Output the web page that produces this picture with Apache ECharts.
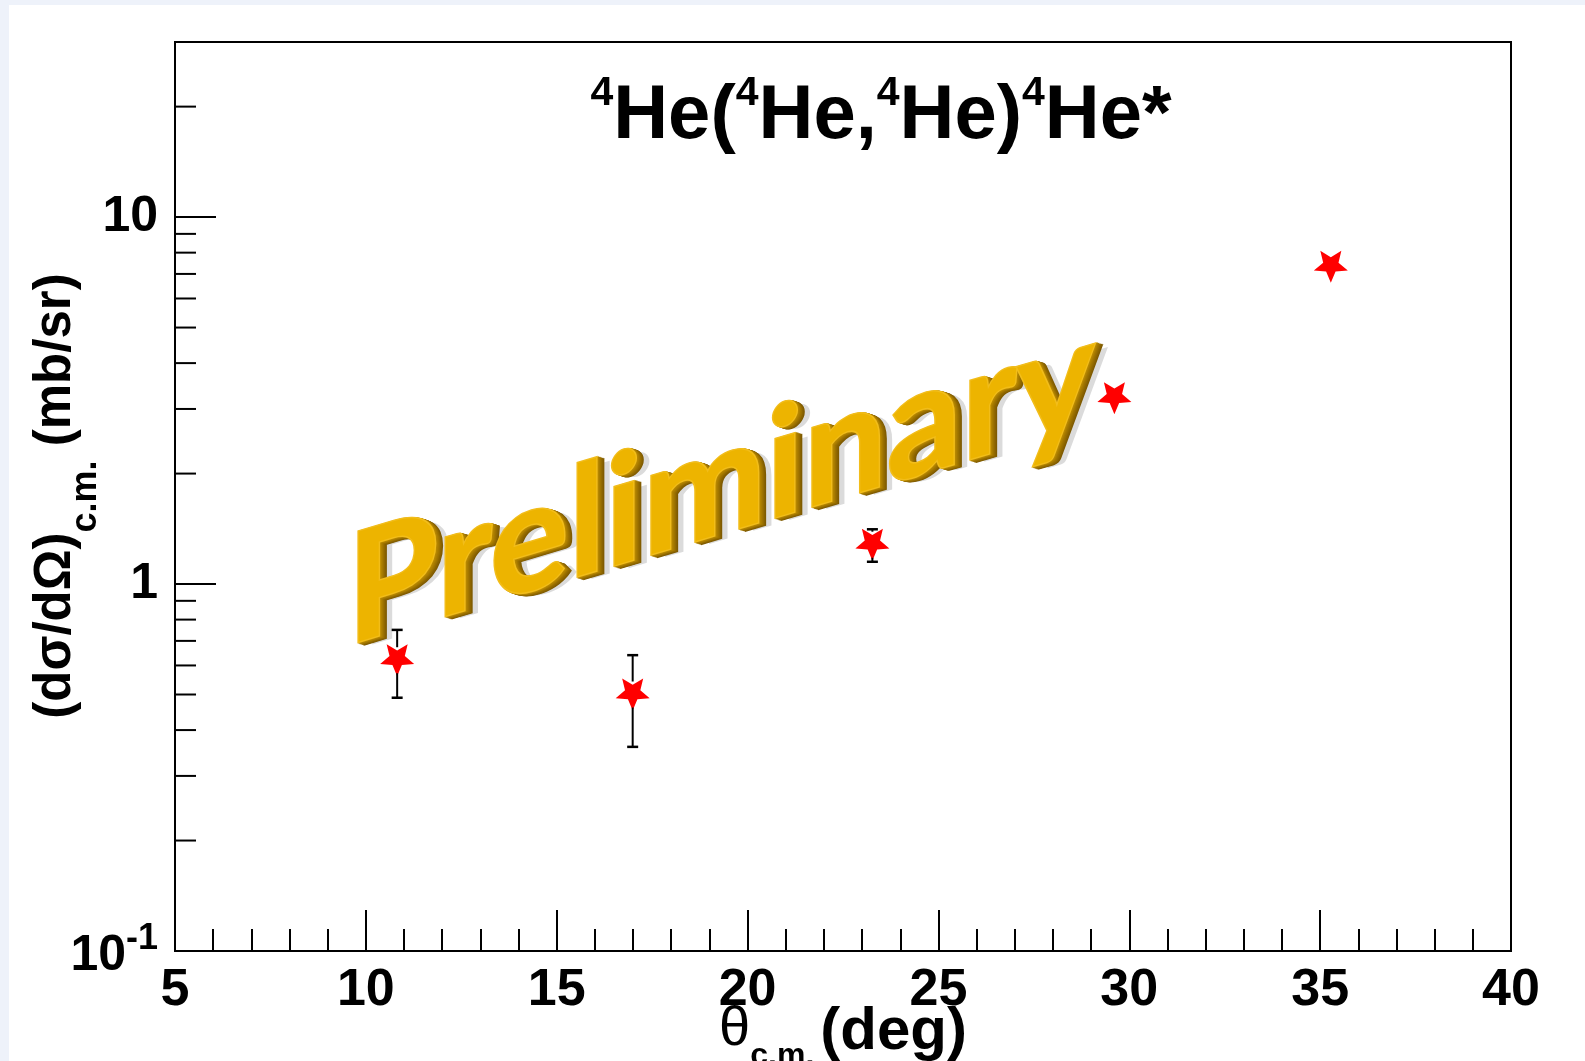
<!DOCTYPE html>
<html>
<head>
<meta charset="utf-8">
<script src="https://cdn.jsdelivr.net/npm/echarts@6/dist/echarts.min.js"></script>
<style>
  html, body { margin: 0; padding: 0; background: #eef2fa; overflow: hidden; }
  #frame { position: absolute; left: 9px; top: 5px; right: 0; bottom: 0; background: #ffffff; }
  #chart { position: absolute; left: 0; top: 0; width: 1585px; height: 1061px; }
</style>
</head>
<body>
<div id="frame"></div>
<div id="chart"></div>
<script>
// Centre-of-mass angle (deg) and differential cross section (mb/sr)
const thetaCM = [10.82, 16.99, 23.27, 29.61, 35.28];
const crossSection = [0.62, 0.50, 1.28, 3.21, 7.32];
const crossSectionErr = [0.13, 0.14, 0.13, 0.15, 0.30];

// Log-axis tick marks: decades get long ticks, the rest short ones
const yMajorTicks = [0.1, 1, 10];
const yMinorTicks = [0.2, 0.3, 0.4, 0.5, 0.6, 0.7, 0.8, 0.9, 2, 3, 4, 5, 6, 7, 8, 9, 20];

const FONT = 'Liberation Sans';
// five-pointed star, one point down
const STAR = 'path://M0,1 L-0.2645,0.364 L-0.951,0.309 L-0.428,-0.139 L-0.588,-0.809 L0,-0.45 L0.588,-0.809 L0.428,-0.139 L0.951,0.309 L0.2645,0.364 Z';

const chart = echarts.init(document.getElementById('chart'), null, { renderer: 'canvas' });

const pointData = thetaCM.map((t, i) => [t, crossSection[i], crossSectionErr[i]]);
const tickData = yMajorTicks.map(v => [5, v, 41]).concat(yMinorTicks.map(v => [5, v, 21]));

function renderErrorBar(params, api) {
  const x = api.value(0), y = api.value(1), e = api.value(2);
  const c = api.coord([x, y]);
  const hi = api.coord([x, y + e]);
  const lo = api.coord([x, y - e]);
  const gap = 13, cap = 5.5;
  const st = { stroke: '#000', lineWidth: 2 };
  const capSt = { stroke: '#000', lineWidth: 2.5 };
  const out = [];
  if (c[1] - hi[1] > gap) {
    out.push({ type: 'line', shape: { x1: c[0], y1: c[1] - gap, x2: c[0], y2: hi[1] }, style: st });
    out.push({ type: 'line', shape: { x1: c[0] - cap, y1: hi[1], x2: c[0] + cap, y2: hi[1] }, style: capSt });
  }
  if (lo[1] - c[1] > gap) {
    out.push({ type: 'line', shape: { x1: c[0], y1: c[1] + gap, x2: c[0], y2: lo[1] }, style: st });
    out.push({ type: 'line', shape: { x1: c[0] - cap, y1: lo[1], x2: c[0] + cap, y2: lo[1] }, style: capSt });
  }
  return { type: 'group', children: out };
}

function renderYTick(params, api) {
  const p = api.coord([api.value(0), api.value(1)]);
  const len = api.value(2);
  return {
    type: 'line',
    shape: { x1: p[0], y1: p[1], x2: p[0] + len, y2: p[1] },
    style: { stroke: '#000', lineWidth: 2 }
  };
}

// Watermark text: extruded gold letters with a soft shadow
const WM_TEXT = 'Preliminary';
const WM_FONT = 'bold 152px Lato';
const wmLayers = [];
wmLayers.push({
  type: 'text', x: 14, y: 7,
  style: { text: WM_TEXT, font: WM_FONT, fill: 'rgba(90,90,90,0.22)', align: 'left', verticalAlign: 'middle',
           shadowBlur: 16, shadowColor: 'rgba(60,60,60,0.55)' }
});
const depthColors = ['#7e5a00', '#876100', '#906800', '#9a7000', '#a47800', '#ae8000', '#b88800'];
for (let k = depthColors.length; k >= 1; k--) {
  const col = depthColors[depthColors.length - k];
  wmLayers.push({
    type: 'text', x: k * 1.0, y: k * 0.6,
    style: { text: WM_TEXT, font: WM_FONT, fill: col, stroke: col, lineWidth: 3, align: 'left', verticalAlign: 'middle' }
  });
}
wmLayers.push({
  type: 'text', x: 0, y: 0,
  style: { text: WM_TEXT, font: WM_FONT, fill: '#edb400', stroke: '#f2bd1a', lineWidth: 3, align: 'left', verticalAlign: 'middle' }
});

chart.setOption({
  backgroundColor: 'transparent',
  animation: false,
  grid: { left: 175, right: 74, top: 42, bottom: 110, show: true, borderColor: '#000', borderWidth: 2, backgroundColor: 'transparent' },
  xAxis: {
    type: 'value', min: 5, max: 40, interval: 5,
    axisLine: { show: true, lineStyle: { color: '#000', width: 2 } },
    axisTick: { show: true, inside: true, length: 41, lineStyle: { color: '#000', width: 2 } },
    minorTick: { show: true, splitNumber: 5, length: 22, lineStyle: { color: '#000', width: 2 } },
    splitLine: { show: false },
    axisLabel: { color: '#000', fontFamily: FONT, fontWeight: 'bold', fontSize: 52, margin: 14 }
  },
  yAxis: {
    type: 'log', logBase: 10, min: 0.1, max: 30, interval: 1,
    axisLine: { show: true, lineStyle: { color: '#000', width: 2 } },
    axisTick: { show: false },
    splitLine: { show: false },
    axisLabel: {
      color: '#000', fontFamily: FONT, fontWeight: 'bold', fontSize: 50, margin: 17,
      showMaxLabel: false,
      formatter: function (v) {
        if (Math.abs(v - 10) < 1e-6) return '10';
        if (Math.abs(v - 1) < 1e-6) return '1';
        if (Math.abs(v - 0.1) < 1e-6) return '{b|10}{sup|-1}';
        return '';
      },
      rich: {
        b: { fontFamily: FONT, fontWeight: 'bold', fontSize: 50, lineHeight: 60, verticalAlign: 'bottom', color: '#000' },
        sup: { fontFamily: FONT, fontWeight: 'bold', fontSize: 36, lineHeight: 36, verticalAlign: 'top', color: '#000' }
      }
    }
  },
  graphic: [
    {
      type: 'text', x: 881, y: 73, z: 50,
      style: {
        text: '{s|4}{m|He(}{s|4}{m|He,}{s|4}{m|He)}{s|4}{m|He*}',
        align: 'center', verticalAlign: 'top',
        rich: {
          m: { fontFamily: FONT, fontWeight: 'bold', fontSize: 76, lineHeight: 82, verticalAlign: 'bottom', fill: '#000' },
          s: { fontFamily: FONT, fontWeight: 'bold', fontSize: 41, lineHeight: 41, verticalAlign: 'top', fill: '#000' }
        }
      }
    },
    {
      type: 'text', x: 843, y: 1002, z: 50,
      style: {
        text: '{th|θ}{sub|c.m.}{m|(deg)}',
        align: 'center', verticalAlign: 'top',
        rich: {
          th: { fontFamily: FONT, fontSize: 56, lineHeight: 60, verticalAlign: 'top', fill: '#000' },
          sub: { fontFamily: FONT, fontWeight: 'bold', fontSize: 32, lineHeight: 32, verticalAlign: 'top', padding: [38, 6, 0, 0], fill: '#000' },
          m: { fontFamily: FONT, fontWeight: 'bold', fontSize: 60, lineHeight: 60, verticalAlign: 'top', fill: '#000' }
        }
      }
    },
    {
      type: 'text', x: 56, y: 496, z: 50, rotation: Math.PI / 2,
      style: {
        text: '{m|(dσ/dΩ)}{sub|c.m.}{m| (mb/sr)}',
        align: 'center', verticalAlign: 'middle',
        rich: {
          m: { fontFamily: FONT, fontWeight: 'bold', fontSize: 51, lineHeight: 51, verticalAlign: 'top', fill: '#000' },
          sub: { fontFamily: FONT, fontWeight: 'bold', fontSize: 36, lineHeight: 36, verticalAlign: 'top', padding: [38, 0, 0, 0], fill: '#000' }
        }
      }
    },
    {
      type: 'group', x: 347, y: 596, z: 100, skewY: 0.29, scaleX: 0.97,
      children: wmLayers
    }
  ],
  series: [
    {
      type: 'custom', name: 'yticks', coordinateSystem: 'cartesian2d',
      renderItem: renderYTick, data: tickData, clip: false, silent: true, z: 5
    },
    {
      type: 'scatter', name: 'data', data: pointData,
      symbol: STAR, symbolSize: [34, 32],
      itemStyle: { color: '#ff0000', opacity: 1 }, z: 10
    },
    {
      type: 'custom', name: 'errors', coordinateSystem: 'cartesian2d',
      renderItem: renderErrorBar, data: pointData, clip: false, silent: true, z: 11
    }
  ]
});
</script>
</body>
</html>
